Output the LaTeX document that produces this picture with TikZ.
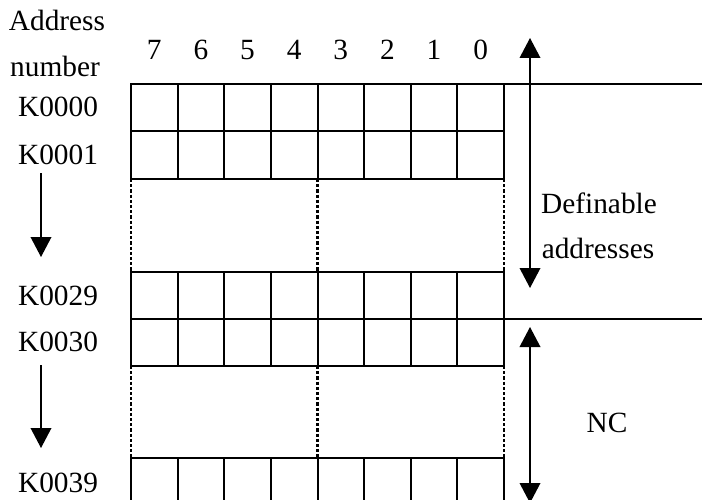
\documentclass[tikz,border=0pt]{standalone}
\usepackage{fontspec}
\setmainfont{Liberation Serif}
\usetikzlibrary{arrows.meta}
\begin{document}
\begin{tikzpicture}[x=0.75pt,y=-0.75pt,
  gridline/.style={line width=1.5pt, line cap=rect},
  dashv/.style={line width=1.6pt, dash pattern=on 2.4pt off 1.5pt},
  lbl/.style={font=\fontsize{22}{26}\selectfont, inner sep=0pt},
  arr/.style={line width=1.1pt, -{Triangle[width=15.5pt,length=15pt]}},
  darr/.style={line width=1.1pt, {Triangle[width=15.5pt,length=15pt]}-{Triangle[width=15.5pt,length=15pt]}}
]
\useasboundingbox (0,0) rectangle (702,499);
% solid cell blocks
\foreach \t/\b in {84/179, 272/366, 458/499}{
  \foreach \i in {0,...,8}{
    \draw[gridline] ({131+\i*46.625},\t) -- ({131+\i*46.625},\b);
  }
}
\foreach \y in {131,179,272,366,458}{
  \draw[gridline] (131,\y) -- (504,\y);
}
\draw[gridline] (131,84) -- (702,84);
\draw[gridline] (131,319) -- (702,319);
% dashed gaps
\foreach \x in {131,317.5,504}{
  \foreach \t/\b in {179/272, 366/458}{
    \draw[dashv] (\x,\t) -- (\x,\b);
  }
}
% labels
\node[lbl] (addr) at (57,20) {Address};
\node[lbl] (num) at (55,66) {number};
\foreach \d [count=\i from 0] in {7,6,5,4,3,2,1,0}{
  \node[lbl] (bit\d) at ({154.3+\i*46.625},50) {\d};
}
\node[lbl] (k0) at (58,107) {K0000};
\node[lbl] (k1) at (58,155) {K0001};
\node[lbl] (k29) at (58,296) {K0029};
\node[lbl] (k30) at (58,342) {K0030};
\node[lbl] (k39) at (58,483) {K0039};
\node[lbl] (def) at (599,203) {Definable};
\node[lbl] (adr) at (598,248) {addresses};
\node[lbl] (nc) at (607,423) {NC};
% arrows
\coordinate (d1s) at (41,173);
\coordinate (d1e) at (41,257);
\coordinate (d2s) at (41,365);
\coordinate (d2e) at (41,448);
\draw[arr] (d1s) -- (d1e);
\draw[arr] (d2s) -- (d2e);
\coordinate (r1t) at (530,38);
\coordinate (r1b) at (530,288);
\coordinate (r2t) at (530,327);
\coordinate (r2b) at (530,503);
\draw[darr] (r1t) -- (r1b);
\draw[darr] (r2t) -- (r2b);
\end{tikzpicture}
\end{document}
